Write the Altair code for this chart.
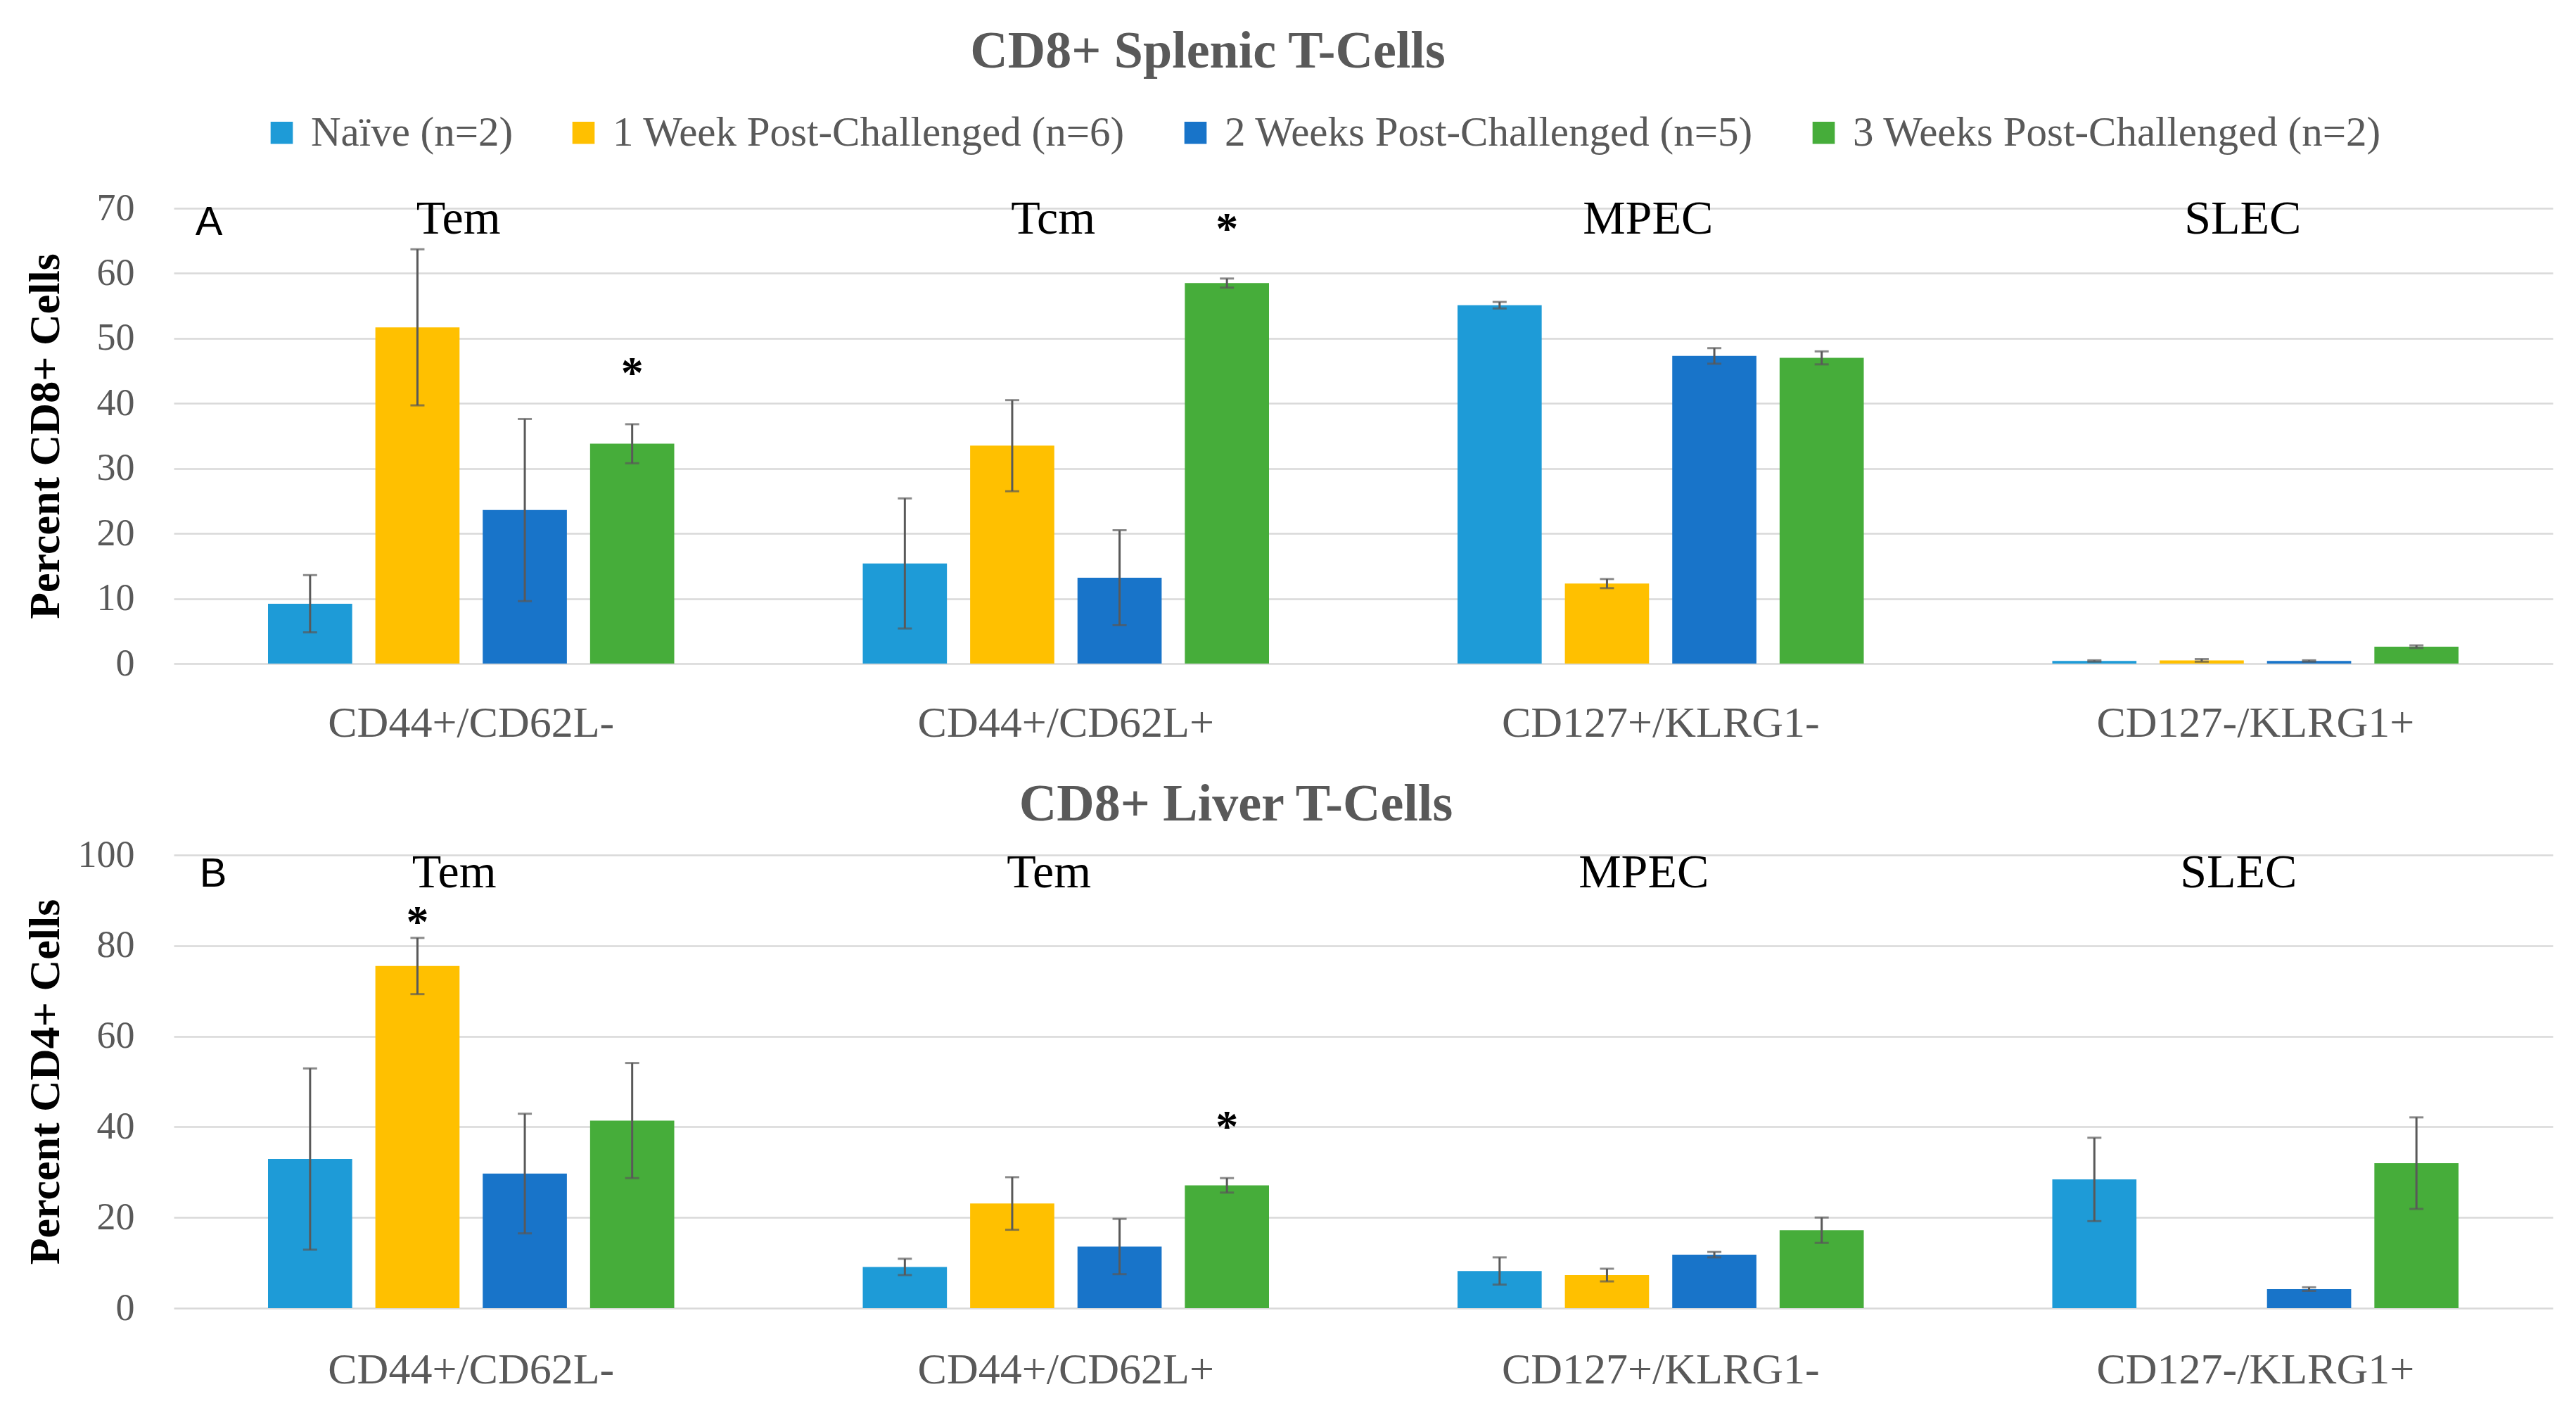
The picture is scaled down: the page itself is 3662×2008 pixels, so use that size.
import altair as alt
import pandas as pd

groups = ["CD44+/CD62L-", "CD44+/CD62L+", "CD127+/KLRG1-", "CD127-/KLRG1+"]
series = ["Naïve (n=2)", "1 Week Post-Challenged (n=6)",
          "2 Weeks Post-Challenged (n=5)", "3 Weeks Post-Challenged (n=2)"]
colors = ["#1E9BD7", "#FFC000", "#1874C9", "#46AD3A"]

# Panel A: CD8+ splenic T-cells
spleen_naive = [9.2, 15.4, 55.1, 0.4]
spleen_week1 = [51.7, 33.5, 12.3, 0.5]
spleen_week2 = [23.6, 13.2, 47.3, 0.4]
spleen_week3 = [33.8, 58.5, 47.0, 2.6]
spleen_naive_err = [4.4, 10.0, 0.5, 0.1]
spleen_week1_err = [12.0, 7.0, 0.7, 0.2]
spleen_week2_err = [14.0, 7.3, 1.2, 0.1]
spleen_week3_err = [3.0, 0.7, 1.0, 0.2]
spleen_subsets = ["Tem", "Tcm", "MPEC", "SLEC"]
spleen_star_group = [groups[0], groups[1]]
spleen_star_series = [series[3], series[3]]
spleen_star_y = [44.5, 66.6]

# Panel B: CD8+ liver T-cells
liver_naive = [32.9, 9.1, 8.2, 28.4]
liver_week1 = [75.5, 23.1, 7.3, None]
liver_week2 = [29.7, 13.6, 11.8, 4.2]
liver_week3 = [41.4, 27.1, 17.2, 32.0]
liver_naive_err = [20.0, 1.8, 3.0, 9.2]
liver_week1_err = [6.2, 5.8, 1.4, None]
liver_week2_err = [13.2, 6.1, 0.6, 0.4]
liver_week3_err = [12.7, 1.6, 2.8, 10.1]
liver_subsets = ["Tem", "Tem", "MPEC", "SLEC"]
liver_star_group = [groups[0], groups[1]]
liver_star_series = [series[1], series[3]]
liver_star_y = [85.0, 39.8]

SERIF = "Liberation Serif"
GRAY = "#595959"
W = 3382


def bar_frame(vals, errs):
    rows = []
    for s, vl, el in zip(series, vals, errs):
        for g, v, e in zip(groups, vl, el):
            if v is None:
                continue
            rows.append({"group": g, "series": s, "value": v, "lo": v - e, "hi": v + e})
    return pd.DataFrame(rows)


def panel(df, subsets, star_g, star_s, star_y, ymax, ystep, ytitle, title, title_dx,
          title_offset, letter, letter_dx, letter_y, subset_y, subset_dx, height, xlab_pad,
          show_legend):
    xaxis = alt.Axis(title=None, labelAngle=0, labelFont=SERIF, labelFontSize=62,
                     labelColor=GRAY, labelPadding=xlab_pad, labelBaseline="middle",
                     ticks=False, tickSize=0, domain=False, grid=False,
                     labelLimit=2000, labelOverlap=False)
    xscale = alt.Scale(paddingInner=0, paddingOuter=0)
    xenc = alt.X("group:N", sort=groups, scale=xscale, axis=xaxis)
    xoff = alt.XOffset("series:N", sort=series,
                       scale=alt.Scale(paddingInner=0.216, paddingOuter=0.878))
    yaxis = alt.Axis(values=list(range(0, ymax + 1, ystep)), title=ytitle,
                     labelFont=SERIF, labelFontSize=54, labelColor=GRAY, labelPadding=56,
                     ticks=False, tickSize=0, domain=False, gridColor="#D9D9D9", gridWidth=2.5,
                     titleFont=SERIF, titleFontSize=62, titleFontWeight="bold", titleColor="black",
                     titleAngle=270, titleBaseline="middle", titleX=-183, titleY=height / 2,
                     titleLimit=3000)
    yscale = alt.Scale(domain=[0, ymax], nice=False)

    if show_legend:
        legend = alt.Legend(title=None, orient="none", legendX=124, legendY=-137,
                            direction="horizontal", symbolType="square", symbolSize=1000,
                            symbolStrokeWidth=0, labelFont=SERIF, labelFontSize=59,
                            labelColor=GRAY, labelOffset=12, columnPadding=70,
                            labelLimit=3000, padding=0)
    else:
        legend = None

    bars = alt.Chart(df).mark_bar().encode(
        x=xenc, xOffset=xoff,
        y=alt.Y("value:Q", scale=yscale, axis=yaxis),
        color=alt.Color("series:N", sort=series,
                        scale=alt.Scale(domain=series, range=colors), legend=legend),
    )
    rule = alt.Chart(df).mark_rule(color=GRAY, strokeWidth=3).encode(
        x=xenc, xOffset=xoff,
        y=alt.Y("lo:Q", scale=yscale, axis=yaxis), y2="hi:Q",
    )
    cap_lo = alt.Chart(df).mark_tick(color=GRAY, thickness=3, size=20).encode(
        x=xenc, xOffset=xoff, y=alt.Y("lo:Q", scale=yscale, axis=yaxis))
    cap_hi = alt.Chart(df).mark_tick(color=GRAY, thickness=3, size=20).encode(
        x=xenc, xOffset=xoff, y=alt.Y("hi:Q", scale=yscale, axis=yaxis))

    stars_df = pd.DataFrame({"group": star_g, "series": star_s, "y": star_y})
    stars = alt.Chart(stars_df).mark_text(
        text="*", font=SERIF, fontSize=64, fontWeight="bold", color="black",
        baseline="middle").encode(
        x=xenc, xOffset=xoff, y=alt.Y("y:Q", scale=yscale, axis=yaxis))

    lab_df = pd.DataFrame({"group": groups, "label": subsets})
    labels = alt.Chart(lab_df).mark_text(
        font=SERIF, fontSize=68, color="black", baseline="middle", dx=subset_dx).encode(
        x=xenc, y=alt.YDatum(subset_y, scale=yscale, axis=yaxis), text="label:N")

    let_df = pd.DataFrame({"group": [groups[0]], "label": [letter]})
    letter_mark = alt.Chart(let_df).mark_text(
        font="Liberation Sans", fontSize=58, color="black", baseline="middle",
        align="center", dx=letter_dx).encode(
        x=alt.X("group:N", sort=groups, bandPosition=0, scale=xscale, axis=xaxis),
        y=alt.YDatum(letter_y, scale=yscale, axis=yaxis), text="label:N")

    return alt.layer(bars, rule, cap_lo, cap_hi, stars, labels, letter_mark).properties(
        width=W, height=height,
        title=alt.TitleParams(title, font=SERIF, fontSize=74, fontWeight="bold", color=GRAY,
                              anchor="middle", frame="group", dx=title_dx,
                              offset=title_offset, baseline="alphabetic"),
    )


top = panel(bar_frame([spleen_naive, spleen_week1, spleen_week2, spleen_week3],
                      [spleen_naive_err, spleen_week1_err, spleen_week2_err, spleen_week3_err]),
            spleen_subsets, spleen_star_group, spleen_star_series, spleen_star_y,
            70, 10, "Percent CD8+ Cells", "CD8+ Splenic T-Cells", -221, -11,
            "A", 50, 67.7, 68.3, -18, 647, 84, True)

bottom = panel(bar_frame([liver_naive, liver_week1, liver_week2, liver_week3],
                         [liver_naive_err, liver_week1_err, liver_week2_err, liver_week3_err]),
               liver_subsets, liver_star_group, liver_star_series, liver_star_y,
               100, 20, "Percent CD4+ Cells", "CD8+ Liver T-Cells", -181, -52,
               "B", 56, 95.7, 96.0, -24, 644, 87, False)

chart = alt.vconcat(top, bottom, spacing=49).resolve_scale(
    x="independent", y="independent"
).resolve_legend(color="independent").properties(
    padding={"left": 25, "top": 29, "right": 5, "bottom": 5},
    background="white",
).configure_view(stroke=None)

chart.save("out.html", embed_options={"renderer": "svg", "actions": False})
